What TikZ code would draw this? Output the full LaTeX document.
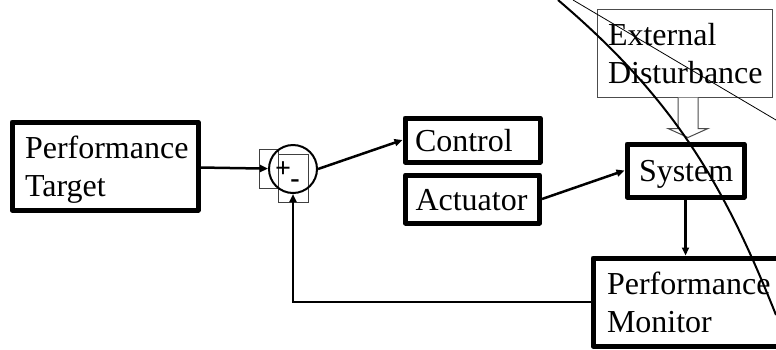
\documentclass[tikz,border=0pt]{standalone}
\usepackage{fontspec}
\setmainfont{Liberation Serif}
\usetikzlibrary{arrows.meta,positioning}
\newcommand{\vstrut}{\rule[-7pt]{0pt}{36pt}}

\begin{document}
\begin{tikzpicture}[
  x=1pt,y=-1pt,
  block/.style={draw,line width=5pt,line join=round,inner xsep=0pt,inner ysep=0pt,align=left,font=\fontsize{32}{38}\selectfont},
  thinbox/.style={draw=black!70,line width=1pt,inner xsep=0pt,inner ysep=0pt,align=left,font=\fontsize{32}{38}\selectfont},
  tagbox/.style={draw=black!75,line width=0.8pt,inner sep=0pt},
  junction/.style={draw,circle,line width=2pt,minimum size=48pt,inner sep=0pt},
  arrow/.style={-{Triangle[length=8pt,width=7pt]},line width=2.5pt},
  hollow/.style={draw=black!70,line width=1pt,fill=white}
]
\useasboundingbox (0,0) rectangle (776,349);
\fill[white] (0,0) rectangle (776,349);
\clip (0,0) rectangle (776,349);

\node[block,minimum width=186pt,minimum height=88pt,text width=160pt] (target) at (105,166) {\vstrut Performance\\\vstrut Target};
\node[block,minimum width=135pt,minimum height=44pt,text width=115pt] (control) at (472.5,140) {\vstrut Control};
\node[block,minimum width=134pt,minimum height=48pt,text width=114pt,below=8pt of control] (actuator) {\vstrut Actuator};
\node[block,minimum width=117pt,minimum height=53pt,text width=93pt] (system) at (685.5,170.5) {\vstrut System};
\node[block,minimum width=197pt,minimum height=88pt,text width=169pt] (monitor) at (691.5,302) {\vstrut Performance\\\vstrut Monitor};
\node[thinbox,minimum width=175pt,minimum height=88pt,text width=153pt] (dist) at (684.5,53) {\vstrut External\\\vstrut Disturbance};

% summing junction
\node[tagbox,minimum width=19pt,minimum height=39pt] (plusbox) at (268.5,168.5) {};
\node[tagbox,minimum width=30pt,minimum height=48pt] (minusbox) at (293,178) {};
\node[junction] (sum) at (293,169) {};
\node[font=\fontsize{28}{28}\selectfont\bfseries,inner sep=0pt] (plus) at (283,170) {+};
\node[font=\fontsize{28}{28}\selectfont\bfseries,inner sep=0pt] (minus) at (295,184) {-};

\draw[arrow] (target) -- (sum);
\draw[arrow] (sum.east) -- (control.west);
\draw[arrow] (actuator.east) -- (system.west);
\draw[arrow] (system.south) -- (system.south |- monitor.north);
\draw[arrow] (monitor.west) -| (sum.south);

% disturbance input
\draw[hollow] ([xshift=-6.5pt]dist.south) -- ++(0,31) -- ++(-10,0) -- ++(20,9) -- ++(20,-9) -- ++(-10,0) -- ++(0,-31);

% crossing lines
\draw[line width=2pt] (558,0) .. controls (678,102) and (726,190) .. (776,315);
\draw[line width=0.8pt] (573,0) -- (776,120);
\end{tikzpicture}
\end{document}
